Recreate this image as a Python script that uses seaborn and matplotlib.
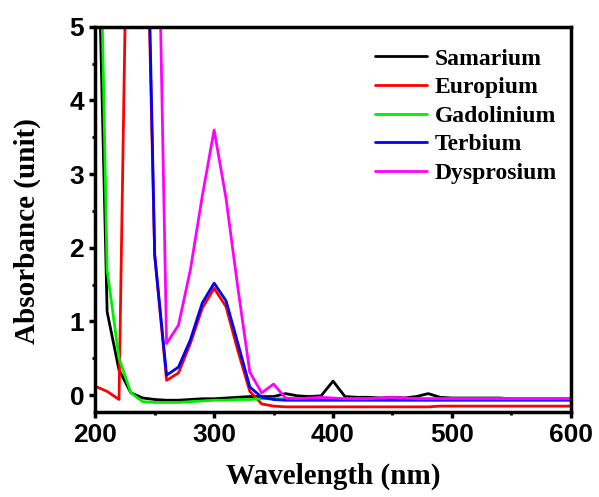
import numpy as np
import pandas as pd
import matplotlib
matplotlib.use('Agg')
import matplotlib.pyplot as plt
import seaborn as sns
from matplotlib.ticker import MultipleLocator

# -- Data (10 nm steps) ---------------------------------------
wavelength = list(range(200, 601, 10))

samarium = [8.0, 1.13, 0.34, 0.03, -0.04, -0.06, -0.07, -0.07, -0.06, -0.05,
            -0.05, -0.04, -0.03, -0.02, -0.02, -0.02, 0.02, -0.01, -0.02, -0.01,
            0.19, -0.02, -0.03, -0.03, -0.04, -0.03, -0.04, -0.02, 0.02, -0.03,
            -0.04, -0.04, -0.04, -0.04, -0.04, -0.05, -0.05, -0.05, -0.05, -0.05,
            -0.05]
europium = [0.12, 0.05, -0.06, 10.0, 9.0, 1.9, 0.2, 0.3, 0.7, 1.18,
            1.45, 1.2, 0.6, 0.05, -0.12, -0.15, -0.16, -0.16, -0.16, -0.16,
            -0.16, -0.16, -0.16, -0.16, -0.16, -0.16, -0.16, -0.16, -0.16, -0.15,
            -0.15, -0.15, -0.15, -0.15, -0.15, -0.15, -0.15, -0.15, -0.15, -0.15,
            -0.15]
gadolinium = [10.0, 1.7, 0.5, 0.03, -0.09, -0.1, -0.1, -0.1, -0.09, -0.08,
              -0.07, -0.07, -0.06, -0.06, -0.05, -0.05, -0.05, -0.05, -0.05, -0.05,
              -0.05, -0.05, -0.05, -0.05, -0.05, -0.05, -0.05, -0.05, -0.05, -0.05,
              -0.05, -0.05, -0.05, -0.05, -0.05, -0.05, -0.05, -0.05, -0.05, -0.05,
              -0.05]
terbium = [10.0, 10.0, 10.0, 10.0, 9.65, 1.9, 0.27, 0.38, 0.75, 1.25,
           1.52, 1.28, 0.7, 0.11, -0.03, -0.06, -0.07, -0.07, -0.07, -0.07,
           -0.07, -0.07, -0.07, -0.07, -0.07, -0.07, -0.07, -0.07, -0.07, -0.07,
           -0.07, -0.07, -0.07, -0.07, -0.07, -0.07, -0.07, -0.07, -0.07, -0.07,
           -0.07]
dysprosium = [10.0, 10.0, 10.0, 10.0, 10.0, 9.3, 0.7, 0.95, 1.7, 2.7,
              3.6, 2.67, 1.45, 0.31, 0.03, 0.15, -0.04, -0.05, -0.04, -0.03,
              -0.04, -0.05, -0.05, -0.05, -0.04, -0.03, -0.04, -0.05, -0.05, -0.05,
              -0.05, -0.05, -0.05, -0.05, -0.05, -0.05, -0.05, -0.05, -0.05, -0.05,
              -0.05]

names = ['Samarium', 'Europium', 'Gadolinium', 'Terbium', 'Dysprosium']
colors = ['#000000', '#ff0000', '#00ee00', '#0000ff', '#ff00ff']
series = [samarium, europium, gadolinium, terbium, dysprosium]

df = pd.concat([pd.DataFrame({'wavelength': wavelength, 'absorbance': s, 'element': n})
                for n, s in zip(names, series)], ignore_index=True)

# -- Plot -----------------------------------------------------
sns.set_style('ticks')
plt.rcParams['font.family'] = ['Liberation Sans', 'DejaVu Sans']
for key in ['text.color', 'axes.labelcolor', 'xtick.color', 'ytick.color',
            'axes.edgecolor']:
    plt.rcParams[key] = 'black'

fig = plt.figure(figsize=(5.99, 4.97), dpi=100)
ax = fig.add_axes([0.159, 0.171, 0.794, 0.775])

sns.lineplot(data=df, x='wavelength', y='absorbance', hue='element',
             hue_order=names, palette=dict(zip(names, colors)),
             linewidth=2, ax=ax, sort=False)

ax.set_xlim(200, 600)
ax.set_ylim(-0.23, 5)
ax.xaxis.set_major_locator(MultipleLocator(100))
ax.xaxis.set_minor_locator(MultipleLocator(50))
ax.yaxis.set_major_locator(MultipleLocator(1))
ax.yaxis.set_minor_locator(MultipleLocator(0.5))

for sp in ax.spines.values():
    sp.set_linewidth(2.5)
    sp.set_color('black')
    sp.set_visible(True)
ax.tick_params(which='major', direction='out', length=4, width=2.5,
               labelsize=19, top=False, right=False, pad=4, colors='black')
ax.tick_params(which='minor', direction='out', length=2.5, width=2,
               top=False, right=False, colors='black')
for lab in ax.get_xticklabels() + ax.get_yticklabels():
    lab.set_fontweight('bold')

ax.set_xlabel('Wavelength (nm)', fontsize=21, fontweight='bold',
              family='Liberation Serif', color='black')
ax.set_ylabel('Absorbance (unit)', fontsize=21, fontweight='bold',
              family='Liberation Serif', color='black')
ax.xaxis.set_label_coords(0.5, -0.132)
ax.yaxis.set_label_coords(-0.115, 0.47)

leg = ax.legend(loc='upper right', bbox_to_anchor=(1.015, 1.0), frameon=False,
                prop={'family': 'Liberation Serif', 'weight': 'bold', 'size': 17},
                handlelength=2.2, handletextpad=0.3, labelspacing=0.3)
for t in leg.get_texts():
    t.set_color('black')

fig.savefig('out.png', dpi=100)
